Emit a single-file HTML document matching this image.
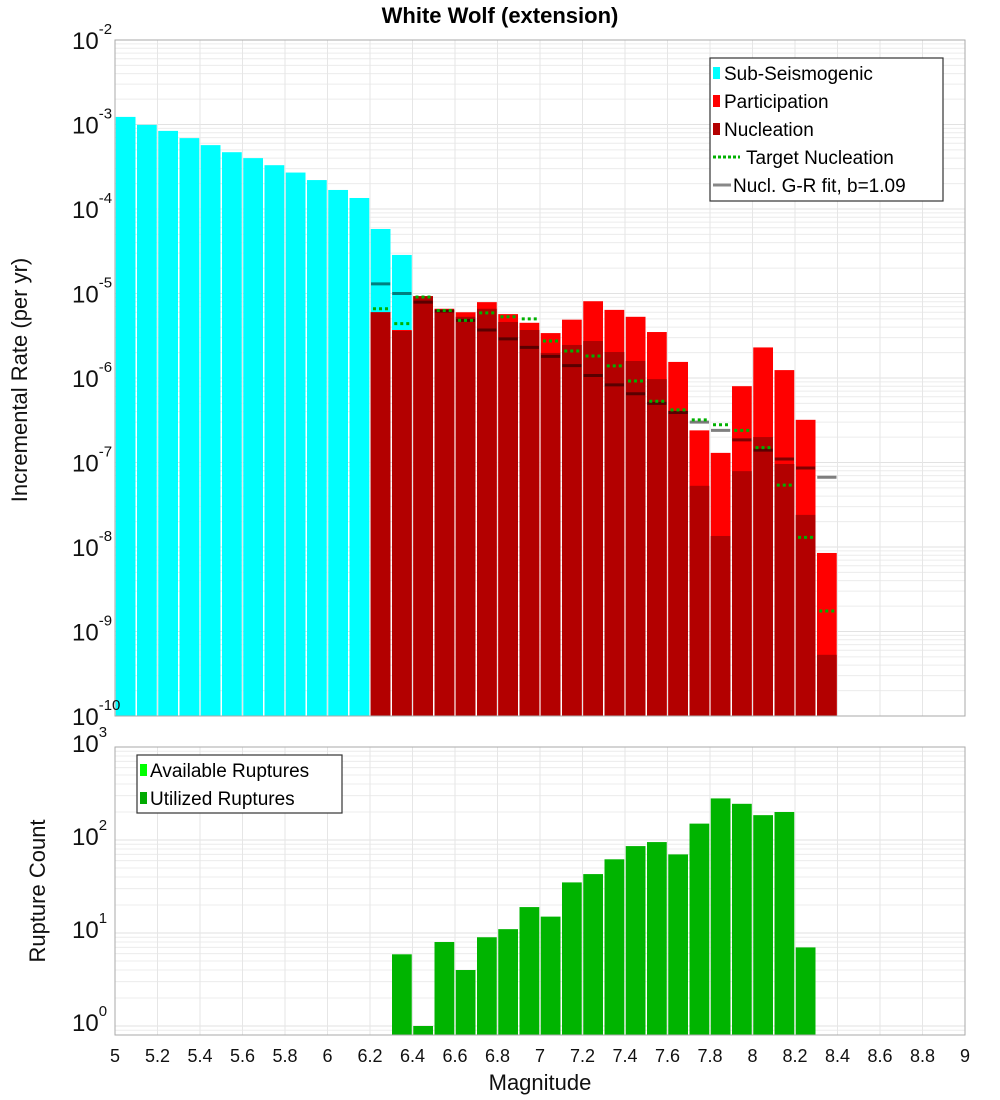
<!DOCTYPE html>
<html><head><meta charset="utf-8"><style>
body{margin:0;background:#fff;}
svg{display:block;font-family:"Liberation Sans","DejaVu Sans",sans-serif;}
</style></head><body>
<svg id="chart" width="1000" height="1100" viewBox="0 0 1000 1100" xmlns="http://www.w3.org/2000/svg"></svg>
<script>
const mags = [5.05,5.15,5.25,5.35,5.45,5.55,5.65,5.75,5.85,5.95,6.05,6.15,6.25,6.35,6.45,6.55,6.65,6.75,6.85,6.95,7.05,7.15,7.25,7.35,7.45,7.55,7.65,7.75,7.85,7.95,8.05,8.15,8.25,8.35,8.45];
const subSeis = [1.23e-3,9.9e-4,8.4e-4,6.9e-4,5.7e-4,4.7e-4,4.0e-4,3.3e-4,2.7e-4,2.2e-4,1.68e-4,1.35e-4,5.8e-5,2.86e-5,null,null,null,null,null,null,null,null,null,null,null,null,null,null,null,null,null,null,null,null,null];
const participation = [null,null,null,null,null,null,null,null,null,null,null,null,6.0e-6,3.7e-6,9.3e-6,6.6e-6,6.0e-6,7.9e-6,5.7e-6,4.5e-6,3.4e-6,4.9e-6,8.1e-6,6.4e-6,5.3e-6,3.5e-6,1.55e-6,2.4e-7,1.3e-7,8.0e-7,2.3e-6,1.24e-6,3.2e-7,8.5e-9,null];
const nucleation = [null,null,null,null,null,null,null,null,null,null,null,null,6.0e-6,3.6e-6,9.3e-6,6.4e-6,5.3e-6,6.6e-6,4.6e-6,3.7e-6,1.98e-6,2.46e-6,2.74e-6,2.03e-6,1.59e-6,9.7e-7,4.1e-7,5.3e-8,1.35e-8,7.9e-8,2.0e-7,9.6e-8,2.4e-8,5.3e-10,null];
const targetNucl = [null,null,null,null,null,null,null,null,null,null,null,null,6.6e-6,4.4e-6,9.1e-6,6.3e-6,4.8e-6,5.9e-6,5.3e-6,5.0e-6,2.74e-6,2.09e-6,1.82e-6,1.39e-6,9.2e-7,5.3e-7,4.2e-7,3.2e-7,2.8e-7,2.4e-7,1.5e-7,5.4e-8,1.3e-8,1.75e-9,null];
const grFit = [null,null,null,null,null,null,null,null,null,null,null,null,1.3e-5,1.0e-5,7.9e-6,6.2e-6,4.8e-6,3.7e-6,2.9e-6,2.3e-6,1.8e-6,1.4e-6,1.07e-6,8.3e-7,6.5e-7,5.0e-7,3.9e-7,3.0e-7,2.4e-7,1.85e-7,1.4e-7,1.1e-7,8.6e-8,6.7e-8,null];
const ruptureCounts = [null,null,null,null,null,null,null,null,null,null,null,null,null,5.9,1,8,4,9,11,19,15,35,43,62,86,95,70,150,280,245,185,200,7,null,null];
const xTicks = ["5","5.2","5.4","5.6","5.8","6","6.2","6.4","6.6","6.8","7","7.2","7.4","7.6","7.8","8","8.2","8.4","8.6","8.8","9"];
const topYExps = [-2,-3,-4,-5,-6,-7,-8,-9,-10];
const botYExps = [3,2,1,0];

const NS="http://www.w3.org/2000/svg";
const svg=document.getElementById('chart');
function el(tag,attrs,parent){const e=document.createElementNS(NS,tag);for(const k in attrs)e.setAttribute(k,attrs[k]);(parent||svg).appendChild(e);return e;}
const X0=115,X1=965,XMIN=5,XMAX=9;
const xS=m=>X0+(m-XMIN)/(XMAX-XMIN)*(X1-X0);
const T0=40,T1=716;
const yT=v=>T0+(-2-Math.log10(v))/8*(T1-T0);
const B0=747,B1=1035,BDEC=93;
const yB=v=>1026-Math.log10(v)*BDEC;
const bw=(X1-X0)/40;

// plot backgrounds + grids
function grid(top,bot,yfun,decLo,decHi,name){
  const g=el('g',{});
  
  
  for(let d=decLo;d<=decHi;d++)for(let k=1;k<10;k++){const v=k*Math.pow(10,d);const y=yfun(v);if(y<top-0.5||y>bot+0.5)continue;
    el('line',{x1:X0,x2:X1,y1:y,y2:y,stroke:k==1?'#e2e2e2':'#ececec','stroke-width':1},g);}
  for(let i=0;i<xTicks.length;i++){const x=xS(parseFloat(xTicks[i]));el('line',{x1:x,x2:x,y1:top,y2:bot,stroke:'#e6e6e6','stroke-width':1},g);}
}
grid(T0,T1,yT,-10,-3,'top-grid');
grid(B0,B1,yB,-1,2,'bottom-grid');

// top bars
const bars=el('g',{});


function bar(i,v,color,yfun,bot,name){
  if(v==null)return;
  const x=xS(mags[i])-bw/2+0.75;const y=yfun(v);
  const r=el('rect',{x:x,y:y,width:bw-1.5,height:Math.max(0,bot-y),fill:color},bars);
  
  
}
for(let i=0;i<mags.length;i++){
  bar(i,subSeis[i],'#00ffff',yT,T1,'sub-seismogenic-bar');
}
for(let i=0;i<mags.length;i++){
  bar(i,participation[i],'#ff0000',yT,T1,'participation-bar');
  bar(i,nucleation[i],'#b30000',yT,T1,'nucleation-bar');
}
for(let i=0;i<mags.length;i++){
  if(grFit[i]!=null){const y=yT(grFit[i]);const l=el('line',{x1:xS(mags[i])-bw/2+1,x2:xS(mags[i])+bw/2-1,y1:y,y2:y,stroke:'rgba(0,0,0,0.5)','stroke-width':3},bars);
    
    }
  if(targetNucl[i]!=null){const y=yT(targetNucl[i]);const l=el('line',{x1:xS(mags[i])-bw/2+3,x2:xS(mags[i])+bw/2-3,y1:y,y2:y,stroke:'#00b000','stroke-width':3,'stroke-dasharray':'3,3'},bars);
    
    }
}
// bottom bars
for(let i=0;i<mags.length;i++){
  bar(i,ruptureCounts[i],'#00b400',yB,B1,'rupture-count-bar');
}
// frames
el('rect',{x:X0,y:T0,width:X1-X0,height:T1-T0,fill:'none',stroke:'#aaa','stroke-width':1});
el('rect',{x:X0,y:B0,width:X1-X0,height:B1-B0,fill:'none',stroke:'#aaa','stroke-width':1});

// y tick labels
function ylab(y,exp,name){
  const t=el('text',{x:112,y:y+9,'text-anchor':'end','font-size':24,fill:'#111'});
  
  
  t.textContent='10';
  const s=el('tspan',{dy:-15,'font-size':15},t);s.textContent=String(exp);
  t.setAttribute('text-anchor','start');
  t.setAttribute('x', exp<0 ? 72 : 72);
}
topYExps.forEach(e=>ylab(yT(Math.pow(10,e)),e,'top-y-tick-label'));
botYExps.forEach(e=>ylab(yB(Math.pow(10,e))-4,e,'bottom-y-tick-label'));
// x tick labels
xTicks.forEach(s=>{const t=el('text',{x:xS(parseFloat(s)),y:1062,'text-anchor':'middle','font-size':18,fill:'#111'});
  
  
  t.textContent=s;});
// titles
let t=el('text',{x:500,y:23,'text-anchor':'middle','font-size':22,'font-weight':'bold',fill:'#000'});
t.textContent='White Wolf (extension)';
t=el('text',{x:540,y:1090,'text-anchor':'middle','font-size':22,fill:'#111'});
t.textContent='Magnitude';
t=el('text',{x:0,y:0,'text-anchor':'middle','font-size':22,fill:'#111',transform:'translate(27,380) rotate(-90)'});
t.textContent='Incremental Rate (per yr)';
t=el('text',{x:0,y:0,'text-anchor':'middle','font-size':22,fill:'#111',transform:'translate(45,891) rotate(-90)'});
t.textContent='Rupture Count';

// legends
const lg=el('g',{});

el('rect',{x:710,y:58,width:233,height:143,fill:'#fff',stroke:'#333','stroke-width':1.2},lg);
const items=[['Sub-Seismogenic','#00ffff','box'],['Participation','#ff0000','box'],['Nucleation','#b30000','box'],['Target Nucleation','#00b000','dot'],['Nucl. G-R fit, b=1.09','#888','line']];
items.forEach((it,i)=>{const y=73+i*28;const g=el('g',{},lg);
  
  if(it[2]=='box')el('rect',{x:713,y:y-6,width:7,height:12,fill:it[1]},g);
  else if(it[2]=='dot')el('line',{x1:713,x2:740,y1:y,y2:y,stroke:it[1],'stroke-width':3,'stroke-dasharray':'3,2'},g);
  else el('line',{x1:713,x2:731,y1:y,y2:y,stroke:it[1],'stroke-width':3},g);
  const tx=el('text',{x:it[2]=='box'?724:(it[2]=='dot'?746:733),y:y+7,'font-size':19,fill:'#000'},g);tx.textContent=it[0];});
const lg2=el('g',{});

el('rect',{x:137,y:755,width:205,height:58,fill:'#fff',stroke:'#333','stroke-width':1.2},lg2);
[['Available Ruptures','#00ff00'],['Utilized Ruptures','#00aa00']].forEach((it,i)=>{const y=770+i*28;const g=el('g',{},lg2);
  
  el('rect',{x:140,y:y-6,width:7,height:12,fill:it[1]},g);
  const tx=el('text',{x:150,y:y+7,'font-size':19,fill:'#000'},g);tx.textContent=it[0];});
</script>
</body></html>
